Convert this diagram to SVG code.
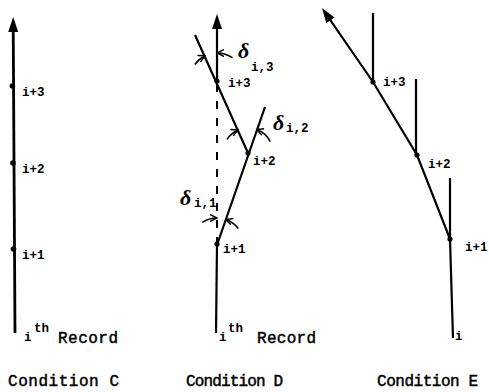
<svg xmlns="http://www.w3.org/2000/svg" width="489" height="392" viewBox="0 0 489 392">
<style>
.ln{stroke:#000;fill:none;stroke-width:2.2}
.thick{stroke-width:2.8}
.dash{stroke:#000;stroke-width:2;stroke-dasharray:8 9;fill:none}
.arc{stroke:#000;stroke-width:1.6;fill:none;marker-end:url(#hook)}
.dot{fill:#000}
.lbl{font-family:"Liberation Mono","DejaVu Sans Mono",monospace;font-weight:bold;font-size:12.5px;fill:#000}
.sub{font-family:"Liberation Mono","DejaVu Sans Mono",monospace;font-weight:bold;font-size:12.5px;fill:#000}
.rec{font-family:"Liberation Mono","DejaVu Sans Mono",monospace;font-size:16px;fill:#000;stroke:#000;stroke-width:0.45}
.cap{font-family:"Liberation Mono","DejaVu Sans Mono",monospace;font-size:16px;fill:#000;stroke:#000;stroke-width:0.45}
.del{font-family:"Liberation Serif","DejaVu Serif",serif;font-style:italic;font-weight:bold;font-size:22px;fill:#000}
</style>
<defs>
<marker id="arr" markerUnits="userSpaceOnUse" viewBox="0 0 15 10" refX="7" refY="5" markerWidth="15" markerHeight="10" orient="auto">
<path d="M0,0 L15,5 L0,10 z" fill="#000"/>
</marker>
<marker id="hook" markerUnits="userSpaceOnUse" viewBox="0 0 8 8" refX="7" refY="4" markerWidth="8" markerHeight="8" orient="auto">
<path d="M0,0.5 L7,4 L0,7.5" fill="none" stroke="#000" stroke-width="1.5"/>
</marker>
</defs>

<g id="connectors">
<!-- Condition C -->
<path class="ln thick" d="M15,333 L13.2,25" marker-end="url(#arr)"/>
<!-- Condition D -->
<path class="ln" d="M216,333 L217,245"/>
<path class="ln" d="M217,80 L217,22" marker-end="url(#arr)"/>
<path class="dash" d="M217,84 L217,243"/>
<path class="ln" d="M217,245 L265,107"/>
<path class="ln" d="M248,153 L195,35"/>
<path class="arc" d="M194.9,64.5 A27,27 0 0 1 205.2,55.7"/>
<path class="arc" d="M232.5,57.9 A27,27 0 0 0 217,53"/>
<path class="arc" d="M227,139.4 A25,25 0 0 1 238.2,130"/>
<path class="arc" d="M270.3,141.6 A25,25 0 0 0 256.6,129.5"/>
<path class="arc" d="M202.3,222.4 A27,27 0 0 1 217,218"/>
<path class="arc" d="M238.3,228.4 A27,27 0 0 0 225.8,219.5"/>
<!-- Condition E -->
<path class="ln" d="M453,338 L450,239 L417,155 L373,82 L326.5,14.6" marker-end="url(#arr)"/>
<path class="ln" d="M373,82 L373,13"/>
<path class="ln" d="M416,155 L416,79"/>
<path class="ln" d="M450,239 L450,178"/>
</g>

<g id="condC">
<circle class="dot" cx="12.4" cy="86" r="2.8"/>
<circle class="dot" cx="13" cy="163" r="2.8"/>
<circle class="dot" cx="13.5" cy="249" r="2.8"/>
<text class="lbl" x="22" y="96">i+3</text>
<text class="lbl" x="22" y="173">i+2</text>
<text class="lbl" x="22" y="259">i+1</text>
<text class="lbl" x="24" y="341">i</text>
<text class="lbl" x="34" y="332">th</text>
<text class="rec" x="58" y="343" textLength="60">Record</text>
<text class="cap" x="8" y="386" textLength="111">Condition C</text>
</g>

<g id="condD">
<circle class="dot" cx="217" cy="81" r="2.6"/>
<circle class="dot" cx="248" cy="153" r="2.6"/>
<circle class="dot" cx="217" cy="244" r="2.6"/>
<text class="lbl" x="228" y="87">i+3</text>
<text class="lbl" x="253" y="165">i+2</text>
<text class="lbl" x="223" y="253">i+1</text>
<text class="lbl" x="219" y="341">i</text>
<text class="lbl" x="228" y="332">th</text>
<text class="rec" x="257" y="343" textLength="59">Record</text>
<text class="cap" x="186" y="386" textLength="97">Condition D</text>
<text class="del" x="238" y="58">δ</text>
<text class="sub" x="251" y="71">i,3</text>
<text class="del" x="273" y="130">δ</text>
<text class="sub" x="286" y="132">i,2</text>
<text class="del" x="180" y="205">δ</text>
<text class="sub" x="194" y="207">i,1</text>
</g>

<g id="condE">
<circle class="dot" cx="373" cy="82" r="2.6"/>
<circle class="dot" cx="417" cy="155" r="2.6"/>
<circle class="dot" cx="450" cy="239" r="2.6"/>
<text class="lbl" x="383" y="86">i+3</text>
<text class="lbl" x="428" y="168">i+2</text>
<text class="lbl" x="465" y="251">i+1</text>
<text class="lbl" x="455" y="340">i</text>
<text class="cap" x="377" y="386" textLength="101">Condition E</text>
</g>
</svg>
